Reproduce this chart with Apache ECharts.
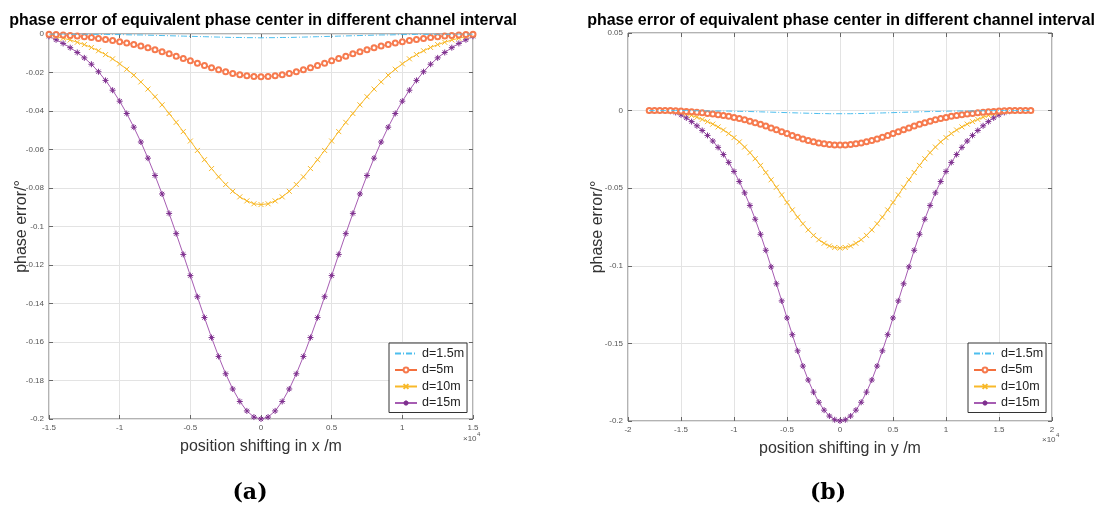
<!DOCTYPE html>
<html>
<head>
<meta charset="utf-8">
<script src="https://cdn.jsdelivr.net/npm/echarts@6/dist/echarts.min.js"></script>
<style>
  html, body { margin: 0; padding: 0; background: #fff; }
  #chart { width: 1100px; height: 510px; }
</style>
</head>
<body>
<div id="chart"></div>
<script>
// position shifting, panel (a) and panel (b)
const xLeft = [-15000,-14500,-14000,-13500,-13000,-12500,-12000,-11500,-11000,-10500,-10000,-9500,-9000,-8500,-8000,-7500,-7000,-6500,-6000,-5500,-5000,-4500,-4000,-3500,-3000,-2500,-2000,-1500,-1000,-500,0,500,1000,1500,2000,2500,3000,3500,4000,4500,5000,5500,6000,6500,7000,7500,8000,8500,9000,9500,10000,10500,11000,11500,12000,12500,13000,13500,14000,14500,15000];
const xRight = [-18000,-17500,-17000,-16500,-16000,-15500,-15000,-14500,-14000,-13500,-13000,-12500,-12000,-11500,-11000,-10500,-10000,-9500,-9000,-8500,-8000,-7500,-7000,-6500,-6000,-5500,-5000,-4500,-4000,-3500,-3000,-2500,-2000,-1500,-1000,-500,0,500,1000,1500,2000,2500,3000,3500,4000,4500,5000,5500,6000,6500,7000,7500,8000,8500,9000,9500,10000,10500,11000,11500,12000,12500,13000,13500,14000,14500,15000,15500,16000,16500,17000,17500,18000];

// panel (a): phase error in x
const leftD15 = [-0.0012,-0.0030,-0.0049,-0.0071,-0.0096,-0.0124,-0.0157,-0.0196,-0.0241,-0.0292,-0.0349,-0.0413,-0.0484,-0.0561,-0.0645,-0.0735,-0.0831,-0.0932,-0.1037,-0.1145,-0.1255,-0.1365,-0.1473,-0.1577,-0.1675,-0.1765,-0.1844,-0.1909,-0.1958,-0.1990,-0.2000,
  -0.1990,-0.1958,-0.1909,-0.1844,-0.1765,-0.1675,-0.1577,-0.1473,-0.1365,-0.1255,-0.1145,-0.1037,-0.0932,-0.0831,-0.0735,-0.0645,-0.0561,-0.0484,-0.0413,-0.0349,-0.0292,-0.0241,-0.0196,-0.0157,-0.0124,-0.0096,-0.0071,-0.0049,-0.0030,-0.0012];
const leftD10 = [-0.0005,-0.0013,-0.0022,-0.0031,-0.0043,-0.0055,-0.0070,-0.0087,-0.0107,-0.0129,-0.0155,-0.0183,-0.0214,-0.0249,-0.0286,-0.0326,-0.0368,-0.0413,-0.0459,-0.0507,-0.0556,-0.0605,-0.0653,-0.0699,-0.0742,-0.0782,-0.0817,-0.0846,-0.0867,-0.0882,-0.0886,
  -0.0882,-0.0867,-0.0846,-0.0817,-0.0782,-0.0742,-0.0699,-0.0653,-0.0605,-0.0556,-0.0507,-0.0459,-0.0413,-0.0368,-0.0326,-0.0286,-0.0249,-0.0214,-0.0183,-0.0155,-0.0129,-0.0107,-0.0087,-0.0070,-0.0055,-0.0043,-0.0031,-0.0022,-0.0013,-0.0005];
const leftD5 = [-0.0001,-0.0003,-0.0005,-0.0008,-0.0011,-0.0014,-0.0018,-0.0023,-0.0028,-0.0034,-0.0040,-0.0047,-0.0054,-0.0062,-0.0072,-0.0082,-0.0092,-0.0103,-0.0115,-0.0127,-0.0139,-0.0152,-0.0164,-0.0175,-0.0186,-0.0196,-0.0205,-0.0212,-0.0217,-0.0221,-0.0222,
  -0.0221,-0.0217,-0.0212,-0.0205,-0.0196,-0.0186,-0.0175,-0.0164,-0.0152,-0.0139,-0.0127,-0.0115,-0.0103,-0.0092,-0.0082,-0.0072,-0.0062,-0.0054,-0.0047,-0.0040,-0.0034,-0.0028,-0.0023,-0.0018,-0.0014,-0.0011,-0.0008,-0.0005,-0.0003,-0.0001];
const leftD1_5 = [0,0,0,-0.0001,-0.0001,-0.0001,-0.0002,-0.0002,-0.0002,-0.0003,-0.0003,-0.0004,-0.0005,-0.0005,-0.0006,-0.0007,-0.0008,-0.0009,-0.0010,-0.0011,-0.0012,-0.0013,-0.0014,-0.0015,-0.0016,-0.0017,-0.0018,-0.0018,-0.0019,-0.0019,-0.0020,
  -0.0019,-0.0019,-0.0018,-0.0018,-0.0017,-0.0016,-0.0015,-0.0014,-0.0013,-0.0012,-0.0011,-0.0010,-0.0009,-0.0008,-0.0007,-0.0006,-0.0005,-0.0005,-0.0004,-0.0003,-0.0003,-0.0002,-0.0002,-0.0002,-0.0001,-0.0001,-0.0001,0,0,0];

// panel (b): phase error in y
const rightD15 = [0,0,0,-0.0001,-0.0004,-0.0012,-0.0027,-0.0047,-0.0071,-0.0098,-0.0128,-0.0160,-0.0196,-0.0237,-0.0283,-0.0334,-0.0392,-0.0457,-0.0530,-0.0611,-0.0700,-0.0797,-0.0900,-0.1007,-0.1116,-0.1226,-0.1336,-0.1444,-0.1548,-0.1646,-0.1736,-0.1814,-0.1879,-0.1930,-0.1968,-0.1992,-0.2000,
  -0.1992,-0.1968,-0.1930,-0.1879,-0.1814,-0.1736,-0.1646,-0.1548,-0.1444,-0.1336,-0.1226,-0.1116,-0.1007,-0.0900,-0.0797,-0.0700,-0.0611,-0.0530,-0.0457,-0.0392,-0.0334,-0.0283,-0.0237,-0.0196,-0.0160,-0.0128,-0.0098,-0.0071,-0.0047,-0.0027,-0.0012,-0.0004,-0.0001,0,0,0];
const rightD10 = [0,0,0,0,-0.0002,-0.0005,-0.0012,-0.0021,-0.0031,-0.0043,-0.0057,-0.0071,-0.0087,-0.0105,-0.0125,-0.0148,-0.0174,-0.0202,-0.0235,-0.0271,-0.0310,-0.0353,-0.0399,-0.0446,-0.0494,-0.0543,-0.0592,-0.0640,-0.0686,-0.0729,-0.0769,-0.0804,-0.0832,-0.0855,-0.0872,-0.0882,-0.0886,
  -0.0882,-0.0872,-0.0855,-0.0832,-0.0804,-0.0769,-0.0729,-0.0686,-0.0640,-0.0592,-0.0543,-0.0494,-0.0446,-0.0399,-0.0353,-0.0310,-0.0271,-0.0235,-0.0202,-0.0174,-0.0148,-0.0125,-0.0105,-0.0087,-0.0071,-0.0057,-0.0043,-0.0031,-0.0021,-0.0012,-0.0005,-0.0002,0,0,0,0];
const rightD5 = [0,0,0,0,0,-0.0001,-0.0003,-0.0005,-0.0008,-0.0011,-0.0014,-0.0018,-0.0022,-0.0026,-0.0031,-0.0037,-0.0044,-0.0051,-0.0059,-0.0068,-0.0078,-0.0088,-0.0100,-0.0112,-0.0124,-0.0136,-0.0148,-0.0160,-0.0172,-0.0183,-0.0193,-0.0201,-0.0209,-0.0214,-0.0218,-0.0221,-0.0222,
  -0.0221,-0.0218,-0.0214,-0.0209,-0.0201,-0.0193,-0.0183,-0.0172,-0.0160,-0.0148,-0.0136,-0.0124,-0.0112,-0.0100,-0.0088,-0.0078,-0.0068,-0.0059,-0.0051,-0.0044,-0.0037,-0.0031,-0.0026,-0.0022,-0.0018,-0.0014,-0.0011,-0.0008,-0.0005,-0.0003,-0.0001,0,0,0,0,0];
const rightD1_5 = [0,0,0,0,0,0,0,0,-0.0001,-0.0001,-0.0001,-0.0002,-0.0002,-0.0002,-0.0003,-0.0003,-0.0004,-0.0005,-0.0005,-0.0006,-0.0007,-0.0008,-0.0009,-0.0010,-0.0011,-0.0012,-0.0013,-0.0014,-0.0015,-0.0016,-0.0017,-0.0018,-0.0019,-0.0019,-0.0020,-0.0020,-0.0020,
  -0.0020,-0.0020,-0.0019,-0.0019,-0.0018,-0.0017,-0.0016,-0.0015,-0.0014,-0.0013,-0.0012,-0.0011,-0.0010,-0.0009,-0.0008,-0.0007,-0.0006,-0.0005,-0.0005,-0.0004,-0.0003,-0.0003,-0.0002,-0.0002,-0.0002,-0.0001,-0.0001,-0.0001,0,0,0,0,0,0,0,0];

const seriesNames = ['d=1.5m', 'd=5m', 'd=10m', 'd=15m'];
const titleText = 'phase error of equivalent phase center in different channel interval';

const FONT = "'Liberation Sans', Arial, sans-serif";
const starPath = 'path://M5,0L5,10M0,5L10,5M1.5,1.5L8.5,8.5M8.5,1.5L1.5,8.5';
const crossPath = 'path://M0,0L10,10M10,0L0,10';

// per curve look, same order as seriesNames
const looks = [
  { line: '#4DBEEE', mark: '#4DBEEE', symbol: 'none', size: 0, dash: [6, 2, 1, 2] },
  { line: '#F4703E', mark: '#F67A4E', symbol: 'emptyCircle', size: 5, dash: 'solid' },
  { line: '#F8B92A', mark: '#F8B92A', symbol: crossPath, size: 5, dash: 'solid' },
  { line: '#A65CB2', mark: '#7E2F8E', symbol: starPath, size: 6, dash: 'solid' }
];

function pairs(xs, ys) {
  return xs.map(function (x, i) { return [x, ys[i]]; });
}

function makeSeries(k, xs, ys, axisIdx) {
  const s = looks[k];
  return {
    name: seriesNames[k],
    type: 'line',
    xAxisIndex: axisIdx,
    yAxisIndex: axisIdx,
    data: pairs(xs, ys),
    symbol: s.symbol,
    symbolSize: s.size,
    showSymbol: s.symbol !== 'none',
    z: 10 - k,
    lineStyle: { color: s.line, width: 1, type: s.dash },
    itemStyle: { color: s.mark, borderColor: s.mark, borderWidth: 1 },
    animation: false
  };
}

function tickFmt(v) {
  return String(parseFloat(v.toFixed(4)));
}

const tickStyle = { inside: true, length: 4, lineStyle: { color: '#666' } };
const noLine = { show: false, onZero: false };

function xAxes(gridIndex, min, max, label) {
  return [
    {
      gridIndex: gridIndex, type: 'value', position: 'bottom', min: min, max: max, interval: 5000,
      axisLine: noLine, axisTick: tickStyle,
      axisLabel: { fontSize: 8, color: '#555', margin: 5, fontFamily: FONT,
        formatter: function (v) { return String(v / 1e4); } },
      splitLine: { show: true, lineStyle: { color: '#e3e3e3' } },
      name: label, nameLocation: 'middle', nameGap: 20,
      nameTextStyle: { fontSize: 16, color: '#333', fontFamily: FONT }
    },
    {
      gridIndex: gridIndex, type: 'value', position: 'top', min: min, max: max, interval: 5000,
      axisLine: noLine, axisTick: tickStyle,
      axisLabel: { show: false }, splitLine: { show: false }
    }
  ];
}

function yAxes(gridIndex, min, max, interval, gap) {
  return [
    {
      gridIndex: gridIndex, type: 'value', position: 'left', min: min, max: max, interval: interval,
      axisLine: noLine, axisTick: tickStyle,
      axisLabel: { fontSize: 8, color: '#555', margin: 5, fontFamily: FONT, formatter: tickFmt },
      splitLine: { show: true, lineStyle: { color: '#e3e3e3' } },
      name: 'phase error/°', nameLocation: 'middle', nameGap: gap, nameMoveOverlap: false,
      nameTextStyle: { fontSize: 16, color: '#333', fontFamily: FONT }
    },
    {
      gridIndex: gridIndex, type: 'value', position: 'right', min: min, max: max, interval: interval,
      axisLine: noLine, axisTick: tickStyle,
      axisLabel: { show: false }, splitLine: { show: false }
    }
  ];
}

function legendAt(left) {
  return {
    data: [
      { name: seriesNames[0], itemStyle: { color: 'rgba(0,0,0,0)', borderColor: 'rgba(0,0,0,0)' } },
      seriesNames[1], seriesNames[2], seriesNames[3]
    ],
    orient: 'vertical',
    left: left, top: 343,
    itemWidth: 22, itemHeight: 6, itemGap: 3.5,
    padding: [4, 3, 3, 5],
    backgroundColor: '#fff',
    borderColor: '#333', borderWidth: 1, borderRadius: 0,
    textStyle: { fontSize: 12.5, color: '#222', fontFamily: FONT }
  };
}

const chart = echarts.init(document.getElementById('chart'));

const xAxis = [].concat(xAxes(0, -15000, 15000, 'position shifting in x /m'),
  xAxes(1, -20000, 20000, 'position shifting in y /m'));
const yAxis = [].concat(yAxes(0, -0.2, 0, 0.02, 19), yAxes(1, -0.2, 0.05, 0.05, 22));

const series = [
  makeSeries(0, xLeft, leftD1_5, 0),
  makeSeries(1, xLeft, leftD5, 0),
  makeSeries(2, xLeft, leftD10, 0),
  makeSeries(3, xLeft, leftD15, 0),
  makeSeries(0, xRight, rightD1_5, 2),
  makeSeries(1, xRight, rightD5, 2),
  makeSeries(2, xRight, rightD10, 2),
  makeSeries(3, xRight, rightD15, 2)
];

const titleStyle = { fontSize: 16, fontWeight: 'bold', color: '#000', fontFamily: FONT };

const option = {
  backgroundColor: '#fff',
  animation: false,
  title: [
    { text: titleText, left: 263, top: 13, textAlign: 'center', padding: 0, textStyle: titleStyle },
    { text: titleText, left: 841, top: 13, textAlign: 'center', padding: 0, textStyle: titleStyle }
  ],
  grid: [
    { left: 49, top: 34, width: 424, height: 385, show: true, borderColor: '#666', borderWidth: 1, backgroundColor: '#fff' },
    { left: 628, top: 33, width: 424, height: 388, show: true, borderColor: '#666', borderWidth: 1, backgroundColor: '#fff' }
  ],
  legend: [legendAt(389), legendAt(968)],
  xAxis: xAxis,
  yAxis: yAxis,
  series: series,
  graphic: [
    { type: 'text', x: 463, y: 435, style: { text: '×10', fontSize: 8, fill: '#555', fontFamily: FONT } },
    { type: 'text', x: 477, y: 431, style: { text: '4', fontSize: 6, fill: '#555', fontFamily: FONT } },
    { type: 'text', x: 1042, y: 436, style: { text: '×10', fontSize: 8, fill: '#555', fontFamily: FONT } },
    { type: 'text', x: 1056, y: 432, style: { text: '4', fontSize: 6, fill: '#555', fontFamily: FONT } },
    { type: 'text', x: 250, y: 493, style: { text: '(a)', fontSize: 22, fontWeight: 'bold', fill: '#000',
      fontFamily: "'DejaVu Serif', 'Liberation Serif', serif", align: 'center', verticalAlign: 'middle' } },
    { type: 'text', x: 828, y: 493, style: { text: '(b)', fontSize: 22, fontWeight: 'bold', fill: '#000',
      fontFamily: "'DejaVu Serif', 'Liberation Serif', serif", align: 'center', verticalAlign: 'middle' } }
  ]
};

chart.setOption(option);
</script>
</body>
</html>
